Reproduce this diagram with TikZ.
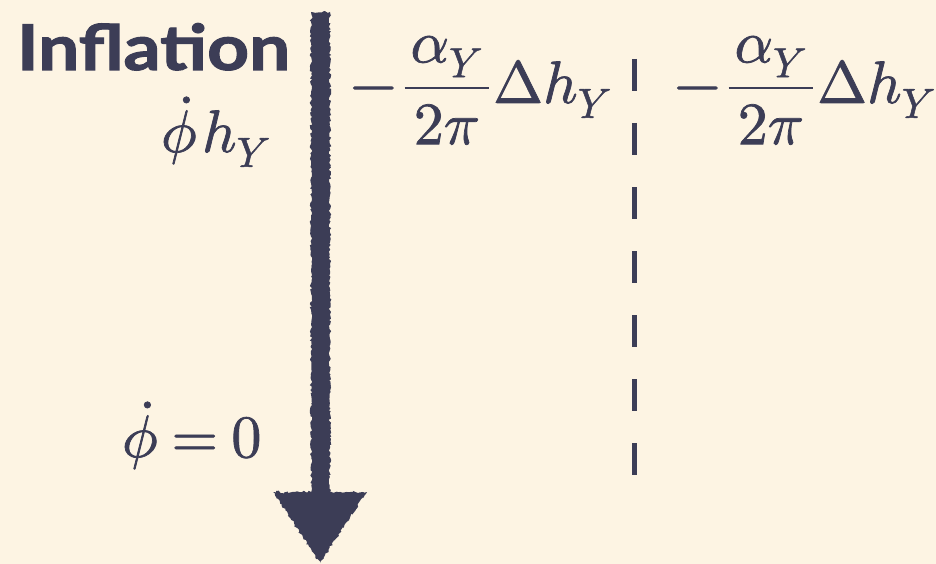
\documentclass[tikz,border=0pt]{standalone}
\usepackage{fontspec}
\usepackage{unicode-math}
\setmathfont{Latin Modern Math}[FakeBold=1.2]
\newfontfamily\gill[BoldFeatures={FakeBold=1.6}]{Lato}
\usetikzlibrary{decorations.pathmorphing,calc}
\definecolor{ink}{RGB}{60,61,86}
\definecolor{paper}{RGB}{253,244,227}
\newcommand{\fracpad}[2]{\dfrac{\mkern1.8mu #1\rule[-5pt]{0pt}{0pt}\mkern1.8mu}{\mkern1.8mu\rule{0pt}{33pt}#2\mkern1.8mu}}
\tikzset{
  mathlbl/.style={inner sep=0pt,outer sep=0pt,text=ink,font=\fontsize{60}{72}\selectfont},
  titlelbl/.style={inner sep=0pt,outer sep=0pt,text=ink,font=\gill\bfseries\fontsize{63}{70}\selectfont},
  dashline/.style={draw=ink,line width=5pt,dash pattern=on 32pt off 32pt},
  roughfill/.style={fill=ink,decoration={random steps,segment length=2pt,amplitude=1.3pt},decorate}
}
\begin{document}
\begin{tikzpicture}[x=1pt,y=-1pt]
\fill[paper] (0,0) rectangle (936,564);
\useasboundingbox (0,0) rectangle (936,564);
% title
\node[titlelbl,anchor=base west] (title) at (17,70) {\scalebox{1.16}[1]{Inflation}};
% labels
\node[mathlbl,anchor=base west] (phih) at (161,152) {$\dot\phi\mkern1.5mu h_Y$};
\node[mathlbl,anchor=base west] (phi0) at (122,457) {$\dot\phi\mkern4mu{=}\mkern4mu 0$};
\node[mathlbl,anchor=base west] (exprA) at (350,103) {$-\mkern2mu\fracpad{\alpha_Y}{2\pi}\mkern1mu\Delta h_Y$};
\node[mathlbl,anchor=base west] (exprB) at (674,103) {$-\mkern2mu\fracpad{\alpha_Y}{2\pi}\mkern1mu\Delta h_Y$};
% dashed separator
\coordinate (dtop) at (634,59);
\coordinate (dbot) at (634,475);
\draw[dashline] (dtop) -- (dbot);
% hand-drawn arrow
\coordinate (atop) at (321,12);
\coordinate (atip) at (320,563);
\path[roughfill] ($(atop)+(-10,0)$) -- ($(atop)+(9,0)$) -- ($(atop)+(9,480)$)
  -- (367,492) -- (atip) -- (273,492) -- ($(atop)+(-10,480)$) -- cycle;
\end{tikzpicture}
\end{document}
